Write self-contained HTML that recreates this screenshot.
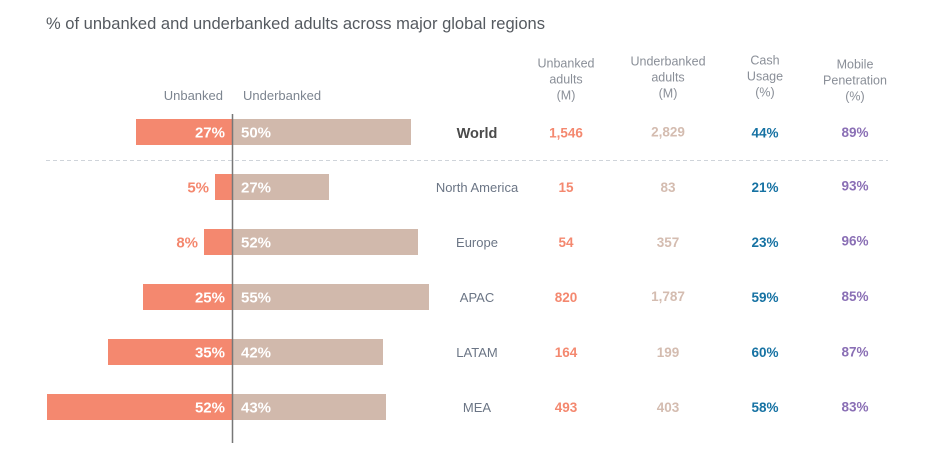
<!DOCTYPE html>
<html><head><meta charset="utf-8"><style>
html,body{margin:0;padding:0;background:#fff;}
svg{display:block;font-family:"Liberation Sans",sans-serif;}
</style></head><body>
<svg width="940" height="467" viewBox="0 0 940 467" xmlns="http://www.w3.org/2000/svg">
<text x="46" y="29" font-size="16.5" fill="#555a60" textLength="499" lengthAdjust="spacingAndGlyphs">% of unbanked and underbanked adults across major global regions</text>

<text x="223" y="100" font-size="13" fill="#7d8590" text-anchor="end">Unbanked</text>
<text x="243" y="100" font-size="13" fill="#7d8590">Underbanked</text>

<g font-size="12.5" fill="#8a8f98" text-anchor="middle">
<text x="566" y="67.5">Unbanked</text><text x="566" y="83.5">adults</text><text x="566" y="99.5">(M)</text>
<text x="668" y="65.5">Underbanked</text><text x="668" y="81.5">adults</text><text x="668" y="97.5">(M)</text>
<text x="765" y="64.5">Cash</text><text x="765" y="80.5">Usage</text><text x="765" y="96.5">(%)</text>
<text x="855" y="68.5">Mobile</text><text x="855" y="84.5">Penetration</text><text x="855" y="100.5">(%)</text>
</g>

<line x1="46" y1="160.5" x2="888" y2="160.5" stroke="#cfd4da" stroke-width="1" stroke-dasharray="4 3"/>

<!-- bars -->
<g fill="#f4886f">
<rect x="136" y="119" width="96.5" height="26"/>
<rect x="215" y="174" width="17.5" height="26"/>
<rect x="204" y="229" width="28.5" height="26"/>
<rect x="143" y="284" width="89.5" height="26"/>
<rect x="108" y="339" width="124.5" height="26"/>
<rect x="47" y="394" width="185.5" height="26"/>
</g>
<g fill="#d1b9ac">
<rect x="232.5" y="119" width="178.5" height="26"/>
<rect x="232.5" y="174" width="96.5" height="26"/>
<rect x="232.5" y="229" width="185.5" height="26"/>
<rect x="232.5" y="284" width="196.5" height="26"/>
<rect x="232.5" y="339" width="150.5" height="26"/>
<rect x="232.5" y="394" width="153.5" height="26"/>
</g>
<line x1="232.5" y1="114" x2="232.5" y2="443" stroke="#777" stroke-width="1.5"/>

<g font-size="15" font-weight="bold" fill="#fff">
<text x="225" y="137.5" text-anchor="end">27%</text>
<text x="225" y="302.5" text-anchor="end">25%</text>
<text x="225" y="357.5" text-anchor="end">35%</text>
<text x="225" y="412.5" text-anchor="end">52%</text>
<text x="241" y="137.5">50%</text>
<text x="241" y="192.5">27%</text>
<text x="241" y="247.5">52%</text>
<text x="241" y="302.5">55%</text>
<text x="241" y="357.5">42%</text>
<text x="241" y="412.5">43%</text>
</g>
<g font-size="15" font-weight="bold" fill="#f4886f" text-anchor="end">
<text x="209" y="192.5">5%</text>
<text x="198" y="247.5">8%</text>
</g>

<!-- region labels -->
<text x="477" y="138" font-size="14.5" font-weight="bold" fill="#4a4a4a" text-anchor="middle">World</text>
<g font-size="13" fill="#6b7585" text-anchor="middle">
<text x="477" y="192">North America</text>
<text x="477" y="247">Europe</text>
<text x="477" y="302">APAC</text>
<text x="477" y="357">LATAM</text>
<text x="477" y="412">MEA</text>
</g>

<g font-size="13.5" font-weight="bold" text-anchor="middle">
<g fill="#f4886f">
<text x="566" y="137.5">1,546</text>
<text x="566" y="192">15</text>
<text x="566" y="247">54</text>
<text x="566" y="302">820</text>
<text x="566" y="357">164</text>
<text x="566" y="412">493</text>
</g>
<g fill="#d4bcb0">
<text x="668" y="136.5">2,829</text>
<text x="668" y="192">83</text>
<text x="668" y="247">357</text>
<text x="668" y="301">1,787</text>
<text x="668" y="357">199</text>
<text x="668" y="412">403</text>
</g>
<g fill="#1672a3">
<text x="765" y="137.5">44%</text>
<text x="765" y="192">21%</text>
<text x="765" y="247">23%</text>
<text x="765" y="302">59%</text>
<text x="765" y="357">60%</text>
<text x="765" y="412">58%</text>
</g>
<g fill="#8a6fb5">
<text x="855" y="137">89%</text>
<text x="855" y="190.5">93%</text>
<text x="855" y="245.5">96%</text>
<text x="855" y="301">85%</text>
<text x="855" y="356.5">87%</text>
<text x="855" y="411.5">83%</text>
</g>
</g>
</svg>
</body></html>
